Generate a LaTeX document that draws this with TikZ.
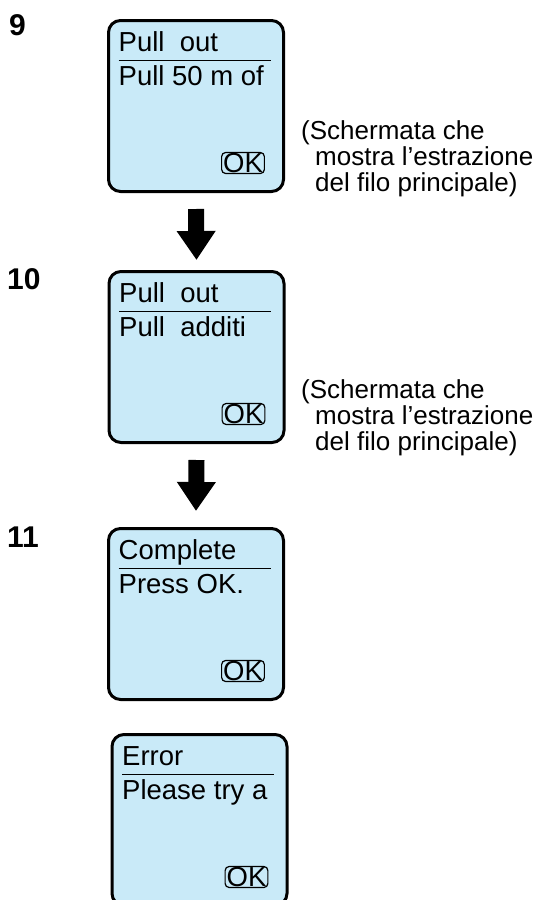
\documentclass[tikz,border=0pt]{standalone}
\usepackage{fontspec}
\setmainfont{Liberation Sans}
\usetikzlibrary{arrows.meta,positioning}
\definecolor{screenblue}{RGB}{201,234,248}
\tikzset{
  screen/.style={draw=black,line width=3pt,rounded corners=12pt,fill=screenblue,
    minimum width=175pt,minimum height=171pt,inner sep=0pt},
  scrtext/.style={anchor=base west,inner sep=0pt,font=\fontsize{27.5}{27.5}\selectfont},
  okbtn/.style={draw,line width=1.2pt,rounded corners=4pt,inner xsep=1.5pt,inner ysep=1pt,
    text height=19pt,text depth=0pt,font=\fontsize{27.5}{27.5}\selectfont},
  stepno/.style={anchor=base west,inner sep=0pt,font=\fontsize{30}{30}\selectfont\bfseries},
  note/.style={anchor=base west,inner sep=0pt,font=\fontsize{26}{26}\selectfont},
  bigarrow/.style={line width=16pt,-{Triangle[width=37pt,length=29pt]}},
}
\begin{document}
\begin{tikzpicture}[x=1pt,y=-1pt]
\useasboundingbox (0,0) rectangle (542,900);
% screens
\foreach \n/\x/\y/\first/\second in {1/196/106/{Pull\ \ out}/{Pull 50 m of},
    2/196.5/357/{Pull\ \ out}/{Pull\ \ additi},
    3/196/614/{Complete}/{Press OK.},
    4/199.5/820/{Error}/{Please try a}}{
  \node[screen] (s\n) at (\x,\y) {};
  \node[scrtext] (t\n) at ([shift={(11.5pt,-32.5pt)}]s\n.north west) {\first};
  \draw[line width=1.3pt] ([shift={(11.5pt,-41.5pt)}]s\n.north west) -- ([shift={(-14.5pt,-41.5pt)}]s\n.north east);
  \node[scrtext] (u\n) at ([shift={(11.5pt,-66.5pt)}]s\n.north west) {\second};
  \node[okbtn] (ok\n) at ([shift={(136pt,-144pt)}]s\n.north west) {OK};
}
% step numbers
\node[stepno] (n9) at (9,35) {9};
\node[stepno] (n10) at (7,289) {10};
\node[stepno] (n11) at (7,547) {11};
% arrows
\draw[bigarrow] ([yshift=-16pt]s1.south) -- ([yshift=10pt]s2.north);
\draw[bigarrow] ([yshift=-16pt]s2.south) -- ([yshift=16pt]s3.north);
% notes
\node[note] (a1) at (301,139) {(Schermata che};
\node[note] (b1) at (315,165) {mostra l’estrazione};
\node[note] (c1) at (315,191) {del filo principale)};
\node[note] (a2) at (301,398) {(Schermata che};
\node[note] (b2) at (315,424) {mostra l’estrazione};
\node[note] (c2) at (315,450) {del filo principale)};
\end{tikzpicture}
\end{document}
